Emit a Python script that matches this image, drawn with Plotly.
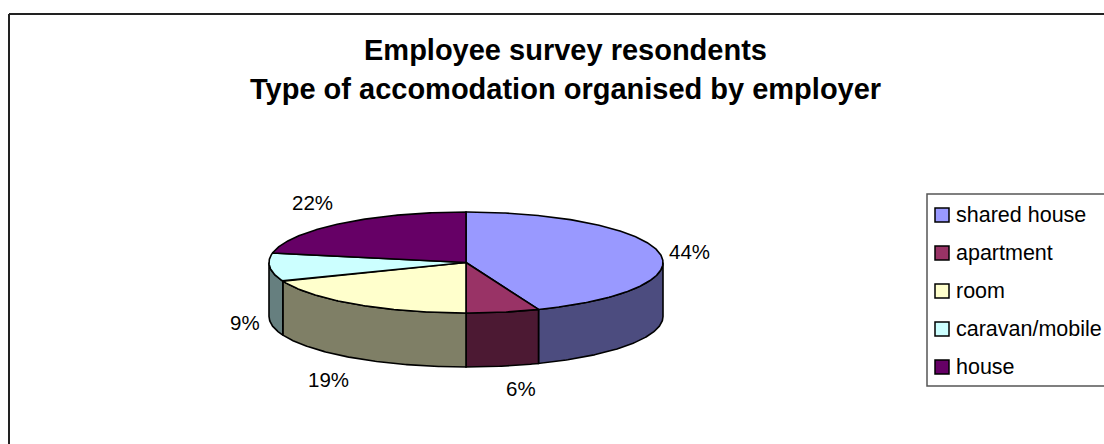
import numpy as np
import plotly.graph_objects as go

# Survey data
categories = ["shared house", "apartment", "room", "caravan/mobile", "house"]
shares = [44, 6, 19, 9, 22]
top_colors = ["#9999FF", "#993366", "#FFFFCC", "#CCFFFF", "#660066"]

title_lines = ["Employee survey resondents", "Type of accomodation organised by employer"]

W, H = 1104, 444
# pie geometry in pixels
CX, CY, RX, RY, DEPTH = 466, 262.5, 197, 50.5, 54
FONT = "Liberation Sans, Arial, sans-serif"


def darker(hex_color, f=0.5):
    h = hex_color.lstrip("#")
    r, g, b = (int(h[i:i + 2], 16) for i in (0, 2, 4))
    return "rgb(%d,%d,%d)" % (r * f, g * f, b * f)


def arc(a, b, dy=0.0):
    t = np.radians(np.linspace(a, b, max(3, int(abs(b - a) * 2) + 2)))
    return CX + RX * np.sin(t), CY - RY * np.cos(t) + dy


total = float(sum(shares))
ends = np.cumsum(shares) / total * 360.0
starts = np.concatenate([[0.0], ends[:-1]])

fig = go.Figure()

# side walls (front half only: 90..270 deg clockwise from 12 o'clock)
for s, e, c in zip(starts, ends, top_colors):
    a, b = max(s, 90.0), min(e, 270.0)
    if a >= b:
        continue
    xt, yt = arc(a, b)
    xb, yb = arc(a, b, DEPTH)
    xs = np.concatenate([xt, xb[::-1], xt[:1]])
    ys = np.concatenate([yt, yb[::-1], yt[:1]])
    fig.add_trace(go.Scatter(x=xs, y=ys, mode="lines", fill="toself",
                             fillcolor=darker(c), line=dict(color="black", width=1.6),
                             hoverinfo="skip", showlegend=False))

# top faces
for name, s, e, c in zip(categories, starts, ends, top_colors):
    xa, ya = arc(s, e)
    xs = np.concatenate([[CX], xa, [CX]])
    ys = np.concatenate([[CY], ya, [CY]])
    fig.add_trace(go.Scatter(x=xs, y=ys, mode="lines", fill="toself", name=name,
                             fillcolor=c, line=dict(color="black", width=1.6),
                             hoverinfo="name", showlegend=False))

annotations = []
# percentage labels placed outside each slice at its mid angle
LRX, LRY = 205, 60
for v, s, e in zip(shares, starts, ends):
    m = np.radians((s + e) / 2)
    sx, cy_ = np.sin(m), -np.cos(m)
    x = CX + LRX * sx
    y = CY + LRY * cy_ + (DEPTH if cy_ > 0 else 0)
    xanchor = "left" if sx > 0 else "right"
    yanchor = "top" if cy_ > 0.5 else ("bottom" if cy_ < -0.5 else "middle")
    annotations.append(dict(x=x, y=y, xref="x", yref="y", text="%d%%" % v,
                            showarrow=False, xanchor=xanchor, yanchor=yanchor,
                            font=dict(family=FONT, size=20.5, color="black")))

# title
for i, line in enumerate(title_lines):
    annotations.append(dict(x=565, y=50 + i * 39, xref="x", yref="y", text="<b>%s</b>" % line,
                            showarrow=False, xanchor="center", yanchor="middle",
                            font=dict(family=FONT, size=29, color="black")))

shapes = [
    # chart frame
    dict(type="line", x0=9, y0=14, x1=W + 5, y1=14, xref="x", yref="y",
         line=dict(color="#222222", width=2)),
    dict(type="line", x0=9, y0=14, x1=9, y1=H + 5, xref="x", yref="y",
         line=dict(color="#222222", width=2)),
    # legend box
    dict(type="rect", x0=927, y0=194, x1=W + 20, y1=386, xref="x", yref="y",
         line=dict(color="#555555", width=1.5), fillcolor="white", layer="below"),
]

# legend entries
LEG_Y0, LEG_DY = 215, 38
for i, (name, c) in enumerate(zip(categories, top_colors)):
    yc = LEG_Y0 + i * LEG_DY
    shapes.append(dict(type="rect", x0=935, x1=949, y0=yc - 7, y1=yc + 7,
                       xref="x", yref="y", fillcolor=c,
                       line=dict(color="black", width=1.5)))
    annotations.append(dict(x=954, y=yc, xref="x", yref="y", text=name,
                            showarrow=False, xanchor="left", yanchor="middle",
                            font=dict(family=FONT, size=21.5, color="black")))

fig.update_layout(
    width=W, height=H, margin=dict(l=0, r=0, t=0, b=0),
    paper_bgcolor="white", plot_bgcolor="white",
    xaxis=dict(range=[0, W], visible=False, fixedrange=True),
    yaxis=dict(range=[H, 0], visible=False, fixedrange=True),
    shapes=shapes, annotations=annotations, showlegend=False,
)

fig.write_html("out.html")
